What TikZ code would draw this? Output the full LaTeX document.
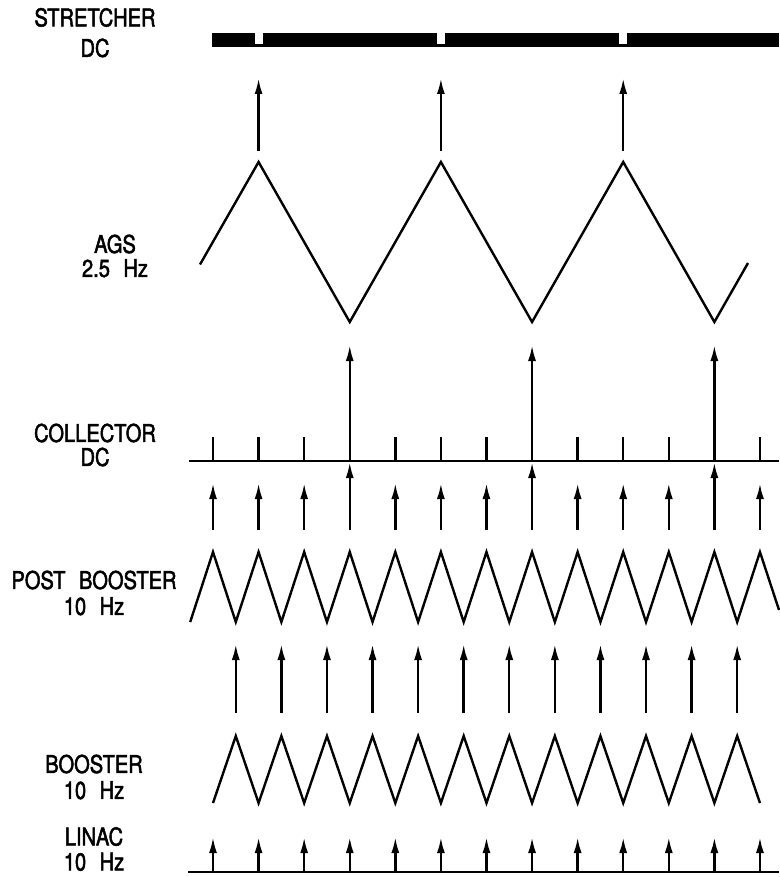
\documentclass[tikz,border=0pt]{standalone}
\usepackage{fontspec}
\setmainfont{TeX Gyre Heros}[FakeStretch=0.82,FakeBold=2]
\usetikzlibrary{arrows.meta}
\begin{document}
\begin{tikzpicture}[x=1pt,y=-1pt,line width=2.4pt,line join=miter,
  up/.style={-{Latex[length=16pt,width=8pt]},line width=2.4pt},
  lbl/.style={align=center,inner sep=0pt,font=\fontsize{24.5}{#1}\selectfont}]
\useasboundingbox (0,0) rectangle (779,877);
\def\p{45.58}
\def\wsp{\hspace{0.55em}}
% labels
\node[lbl=30.5] (lstr) at (95,32.7) {STRETCHER\\DC};
\node[lbl=24] (lags) at (115,256) {AGS\\2.5\wsp Hz};
\node[lbl=24] (lcol) at (95,445) {COLLECTOR\\DC};
\node[lbl=26] (lpb) at (94,593) {POST\wsp BOOSTER\\10\wsp Hz};
\node[lbl=26] (lboo) at (94,777) {BOOSTER\\10\wsp Hz};
\node[lbl=25] (llin) at (94,849) {LINAC\\10\wsp Hz};
% stretcher DC bar with notches
\fill (212,33) rectangle (779,47);
\foreach \k in {1,5,9} \fill[white] ({213+\k*\p-4},32) rectangle ({213+\k*\p+4},44);
% AGS -> stretcher arrows
\foreach \k in {1,5,9} {
  \coordinate (sa\k) at ({213+\k*\p},151);
  \coordinate (sb\k) at ({213+\k*\p},78);
  \draw[up] (sa\k) -- (sb\k);
}
% AGS triangle wave
\draw (200,264.5) -- ({213+\p},162) -- ({213+3*\p},322) -- ({213+5*\p},162)
  -- ({213+7*\p},322) -- ({213+9*\p},162) -- ({213+11*\p},322) -- (748,263);
% collector
\coordinate (cl) at (189,461);
\coordinate (cr) at (779,461);
\draw (cl) -- (cr);
\foreach \k in {0,1,2,4,5,6,8,9,10,12} {
  \coordinate (ct\k) at ({213+\k*\p},437);
  \coordinate (cb\k) at ({213+\k*\p},461);
  \draw (cb\k) -- (ct\k);
  \coordinate (pa\k) at ({213+\k*\p},530);
  \coordinate (pb\k) at ({213+\k*\p},483);
  \draw[up] (pa\k) -- (pb\k);
}
\foreach \k in {3,7,11} {
  \coordinate (cb\k) at ({213+\k*\p},461);
  \coordinate (ca\k) at ({213+\k*\p},345);
  \draw[up] (cb\k) -- (ca\k);
  \coordinate (pa\k) at ({213+\k*\p},530);
  \coordinate (pb\k) at ({213+\k*\p},462);
  \draw[up] (pa\k) -- (pb\k);
}
% post booster triangle wave
\draw (190.2,622) \foreach \k in {0,...,11} { -- ({213+\k*\p},552) -- ({213+(\k+0.5)*\p},622) }
  -- ({213+12*\p},552) -- (779,610);
% booster -> post booster arrows
\foreach \k in {0,...,11} {
  \coordinate (ba\k) at ({213+(\k+0.5)*\p},713);
  \coordinate (bb\k) at ({213+(\k+0.5)*\p},644);
  \draw[up] (ba\k) -- (bb\k);
}
% booster triangle wave
\draw (213,803) \foreach \k in {0,...,11} { -- ({213+(\k+0.5)*\p},736) -- ({213+(\k+1)*\p},803) };
% linac
\coordinate (ll) at (188,872);
\coordinate (lr) at (779,872);
\draw (ll) -- (lr);
\foreach \k in {0,...,12} {
  \coordinate (la\k) at ({213+\k*\p},872);
  \coordinate (lb\k) at ({213+\k*\p},837);
  \draw[up] (la\k) -- (lb\k);
}
\end{tikzpicture}
\end{document}
